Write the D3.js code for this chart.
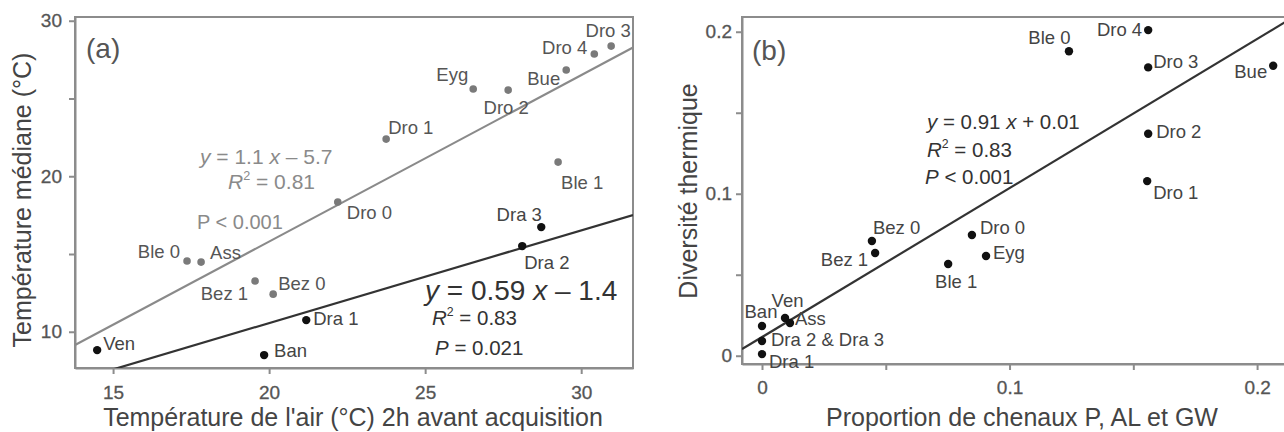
<!DOCTYPE html>
<html>
<head>
<meta charset="utf-8">
<script src="https://cdn.jsdelivr.net/npm/d3@7"></script>
<style>
  body { margin: 0; background: #fff; }
  svg { display: block; font-family: "Liberation Sans", Arial, sans-serif; }
  .axis path, .axis line { stroke: #8c8c8c; stroke-width: 2; }
  .axis text { fill: #555; font-size: 19px; stroke: #555; stroke-width: 0.3; }
  .frame { fill: none; stroke: #8c8c8c; stroke-width: 2; }
  .title { fill: #444; font-size: 25px; }
  .lbl { font-size: 18.5px; }
</style>
</head>
<body>
<script>
"use strict";

// panel (a) : median temperature vs air temperature
var names_a_grey = ["Ble 0", "Ass", "Bez 1", "Bez 0", "Dro 0", "Dro 1", "Eyg", "Dro 2", "Bue", "Dro 4", "Dro 3", "Ble 1"];
var air_a_grey = [17.37, 17.82, 19.55, 20.13, 22.2, 23.75, 26.54, 27.66, 29.52, 30.42, 30.96, 29.26];
var med_a_grey = [14.55, 14.48, 13.26, 12.42, 18.34, 22.39, 25.61, 25.54, 26.83, 27.86, 28.37, 20.91];

var names_a_black = ["Ven", "Ban", "Dra 1", "Dra 2", "Dra 3"];
var air_a_black = [14.49, 19.84, 21.19, 28.11, 28.72];
var med_a_black = [8.82, 8.50, 10.75, 15.51, 16.73];

// fitted lines as drawn: [slope, intercept]
var fit_a_grey = [1.07, -5.6];
var fit_a_black = [0.596, -1.36];

var ticks_a_x = [15, 20, 25, 30];
var ticks_a_y = [10, 15, 20, 25, 30];
var labels_a_y = [10, 20, 30];

// panel (b) : thermal diversity vs channel proportion
var names_b = ["Ble 0", "Dro 4", "Dro 3", "Bue", "Dro 2", "Dro 1", "Bez 0", "Bez 1", "Ble 1", "Dro 0", "Eyg", "Ban", "Ven", "Ass", "Dra 2 & Dra 3", "Dra 1"];
var prop_b = [0.124, 0.156, 0.156, 0.2065, 0.156, 0.1556, 0.0444, 0.0457, 0.0752, 0.0848, 0.0905, 0, 0.0093, 0.0113, 0, 0];
var div_b = [0.188, 0.201, 0.178, 0.179, 0.137, 0.1078, 0.0708, 0.0634, 0.0566, 0.0745, 0.0616, 0.0184, 0.0233, 0.0202, 0.0091, 0.001];

var fit_b = [0.92, 0.0115];

var ticks_b_x = [0, 0.05, 0.1, 0.15, 0.2];
var labels_b_x = [0, 0.1, 0.2];
var ticks_b_y = [0, 0.05, 0.1, 0.15, 0.2];
var labels_b_y = [0, 0.1, 0.2];

// label placement (dx, dy, anchor) relative to each point
var place_a_grey = {
  "Ble 0": [-7, -9, "end"], "Ass": [9, -10, "start"], "Bez 1": [-7, 12, "end"],
  "Bez 0": [5, -11, "start"], "Dro 0": [9, 10, "start"], "Dro 1": [2, -12, "start"],
  "Eyg": [-5, -14, "end"], "Dro 2": [-2, 17, "middle"], "Bue": [-6, 8, "end"],
  "Dro 4": [-7, -6, "end"], "Dro 3": [-3, -16, "middle"], "Ble 1": [3, 20, "start"]
};
var place_a_black = {
  "Ven": [6, -7, "start"], "Ban": [10, -5, "start"], "Dra 1": [7, -2, "start"],
  "Dra 2": [2, 16, "start"], "Dra 3": [-22, -13, "middle"]
};
var place_b = {
  "Ble 0": [-19.5, -14, "middle"], "Dro 4": [-6, -1, "end"], "Dro 3": [5, -6, "start"],
  "Bue": [-6, 6, "end"], "Dro 2": [8, -2, "start"], "Dro 1": [6, 11, "start"],
  "Bez 0": [1, -14, "start"], "Bez 1": [-7, 6, "end"], "Ble 1": [8, 17, "middle"],
  "Dro 0": [8, -8, "start"], "Eyg": [7, -3, "start"], "Ban": [-1, -14, "middle"],
  "Ven": [2.5, -17, "middle"], "Ass": [5, -4, "start"], "Dra 2 & Dra 3": [9, -1, "start"],
  "Dra 1": [7, 7, "start"]
};

var width = 1284, height = 432;

var svg = d3.select("body").append("svg")
  .attr("width", width)
  .attr("height", height);

var defs = svg.append("defs");

function fitLine(g, sx, sy, fit, colour) {
  var dom = sx.domain();
  g.append("line")
    .attr("x1", sx(dom[0])).attr("y1", sy(fit[0] * dom[0] + fit[1]))
    .attr("x2", sx(dom[1])).attr("y2", sy(fit[0] * dom[1] + fit[1]))
    .attr("stroke", colour)
    .attr("stroke-width", 2.2);
}

function drawPoints(g, names, xs, ys, sx, sy, place, dot, text, r) {
  names.forEach(function(n, i) {
    var px = sx(xs[i]), py = sy(ys[i]), p = place[n];
    g.append("circle")
      .attr("cx", px).attr("cy", py).attr("r", r)
      .attr("fill", dot);
    g.append("text").attr("class", "lbl")
      .attr("x", px + p[0]).attr("y", py + p[1])
      .attr("dy", "0.35em")
      .attr("text-anchor", p[2])
      .attr("fill", text)
      .text(n);
  });
}

// equation text: parts are [string, italic, superscript]
function equation(g, x, y, size, parts) {
  var t = g.append("text").attr("x", x).attr("y", y).attr("font-size", size);
  var up = false;
  parts.forEach(function(p) {
    var s = t.append("tspan").text(p[0])
      .attr("font-style", p[1] ? "italic" : null);
    if (p[2]) {
      s.attr("font-size", size * 0.6).attr("dy", -size * 0.42);
      up = true;
    } else if (up) {
      s.attr("dy", size * 0.42);
      up = false;
    }
  });
}

// ---------------------------------------------------------- panel (a)
var a = {left: 75, right: 633, top: 17, bottom: 368};

var xa = d3.scaleLinear().domain([13.78, 31.66]).range([a.left, a.right]);
var ya = d3.scaleLinear().domain([7.67, 30.24]).range([a.bottom, a.top]);

defs.append("clipPath").attr("id", "clipa")
  .append("rect")
  .attr("x", a.left).attr("y", a.top)
  .attr("width", a.right - a.left).attr("height", a.bottom - a.top);

svg.append("rect").attr("class", "frame")
  .attr("x", a.left).attr("y", a.top)
  .attr("width", a.right - a.left).attr("height", a.bottom - a.top);

svg.append("g").attr("class", "axis")
  .attr("transform", `translate(0, ${a.bottom})`)
  .call(d3.axisBottom(xa).tickValues(ticks_a_x).tickSize(6).tickSizeOuter(0))
  .call(g => g.selectAll("text").attr("y", 31).attr("dy", 0));

svg.append("g").attr("class", "axis")
  .attr("transform", `translate(${a.left}, 0)`)
  .call(d3.axisLeft(ya).tickValues(ticks_a_y).tickSize(6).tickSizeOuter(0)
    .tickFormat(d => labels_a_y.includes(d) ? d : ""))
  .call(g => g.selectAll("text").attr("x", -13));

var line_a = svg.append("g").attr("clip-path", "url(#clipa)");
fitLine(line_a, xa, ya, fit_a_grey, "#8a8a8a");
fitLine(line_a, xa, ya, fit_a_black, "#333");

var pts_a = svg.append("g");
drawPoints(pts_a, names_a_grey, air_a_grey, med_a_grey, xa, ya, place_a_grey, "#7a7a7a", "#555", 3.8);
drawPoints(pts_a, names_a_black, air_a_black, med_a_black, xa, ya, place_a_black, "#111", "#444", 4.2);

svg.append("text")
  .attr("x", 86).attr("y", 58)
  .attr("font-size", 28).attr("fill", "#555")
  .text("(a)");

// equations (a)
var eq_grey = svg.append("g").attr("fill", "#8a8a8a");
equation(eq_grey, 200, 164, 21, [["y", true], [" = 1.1 "], ["x", true], [" \u2013 5.7"]]);
equation(eq_grey, 228, 189, 21, [["R", true], ["2", false, true], [" = 0.81"]]);
equation(eq_grey, 197, 229, 20, [["P < 0.001"]]);

var eq_black = svg.append("g").attr("fill", "#333");
equation(eq_black, 425, 300, 28, [["y", true], [" = 0.59 "], ["x", true], [" \u2013 1.4"]]);
equation(eq_black, 432, 325, 20.5, [["R", true], ["2", false, true], [" = 0.83"]]);
equation(eq_black, 435, 355, 20.5, [["P", true], [" = 0.021"]]);

svg.append("text").attr("class", "title")
  .attr("x", 353).attr("y", 426)
  .attr("text-anchor", "middle")
  .text("Température de l'air (°C) 2h avant acquisition");

svg.append("text").attr("class", "title")
  .attr("transform", "translate(31, 200) rotate(-90)")
  .attr("text-anchor", "middle")
  .text("Température médiane (°C)");

// ---------------------------------------------------------- panel (b)
var b = {left: 742, right: 1292, top: 17, bottom: 364};

var xb = d3.scaleLinear().domain([-0.00808, 0.2141]).range([b.left, b.right]);
var yb = d3.scaleLinear().domain([-0.0051, 0.2091]).range([b.bottom, b.top]);

defs.append("clipPath").attr("id", "clipb")
  .append("rect")
  .attr("x", b.left).attr("y", b.top)
  .attr("width", b.right - b.left).attr("height", b.bottom - b.top);

svg.append("rect").attr("class", "frame")
  .attr("x", b.left).attr("y", b.top)
  .attr("width", b.right - b.left).attr("height", b.bottom - b.top);

svg.append("g").attr("class", "axis")
  .attr("transform", `translate(0, ${b.bottom})`)
  .call(d3.axisBottom(xb).tickValues(ticks_b_x).tickSize(6).tickSizeOuter(0)
    .tickFormat(d => labels_b_x.includes(d) ? d : ""))
  .call(g => g.selectAll("text").attr("y", 30).attr("dy", 0));

svg.append("g").attr("class", "axis")
  .attr("transform", `translate(${b.left}, 0)`)
  .call(d3.axisLeft(yb).tickValues(ticks_b_y).tickSize(6).tickSizeOuter(0)
    .tickFormat(d => labels_b_y.includes(d) ? d : ""))
  .call(g => g.selectAll("text").attr("x", -10));

var line_b = svg.append("g").attr("clip-path", "url(#clipb)");
fitLine(line_b, xb, yb, fit_b, "#333");

var pts_b = svg.append("g");
drawPoints(pts_b, names_b, prop_b, div_b, xb, yb, place_b, "#111", "#444", 4.2);

svg.append("text")
  .attr("x", 752).attr("y", 60)
  .attr("font-size", 28).attr("fill", "#555")
  .text("(b)");

var eq_b = svg.append("g").attr("fill", "#333");
equation(eq_b, 927, 129, 20.5, [["y", true], [" = 0.91 "], ["x", true], [" + 0.01"]]);
equation(eq_b, 927, 157, 20.5, [["R", true], ["2", false, true], [" = 0.83"]]);
equation(eq_b, 925, 184, 20.5, [["P", true], [" < 0.001"]]);

svg.append("text").attr("class", "title")
  .attr("x", 1022).attr("y", 426)
  .attr("text-anchor", "middle")
  .text("Proportion de chenaux P, AL et GW");

svg.append("text").attr("class", "title")
  .attr("transform", "translate(697, 191) rotate(-90)")
  .attr("text-anchor", "middle")
  .text("Diversité thermique");
</script>
</body>
</html>
